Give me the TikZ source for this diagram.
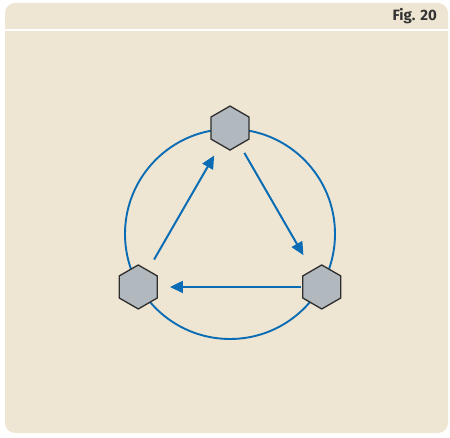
\documentclass[tikz,border=0pt]{standalone}
\usepackage{fontspec}
\setsansfont{Fira Sans}
\usetikzlibrary{shapes.geometric,arrows.meta}
\definecolor{figpanel}{HTML}{EEE6D2}
\definecolor{figblue}{HTML}{0A6CB4}
\definecolor{hexgrey}{HTML}{B1B9BF}
\definecolor{hexline}{HTML}{2E2E2E}
\definecolor{figtext}{HTML}{333333}

\tikzset{
  hexnode/.style={regular polygon, regular polygon sides=6, shape border rotate=30,
    minimum size=44pt, inner sep=0pt, fill=hexgrey, draw=hexline, line width=1.3pt},
  flow/.style={figblue, line width=2pt, -{Triangle[length=13pt,width=12pt]}}
}

\begin{document}
\begin{tikzpicture}[x=1pt,y=1pt]
  \useasboundingbox (0,0) rectangle (450,437);
  % panel and header band
  \fill[figpanel, rounded corners=10pt] (5,4) rectangle (448,434);
  \draw[white, line width=2pt] (5,407) -- (448,407);
  \node[anchor=base east, font=\sffamily\bfseries\fontsize{15}{17}\selectfont, text=figtext,
    inner sep=0pt] (figlabel) at (437,416) {Fig. 20};

  % ring
  \node[circle, draw=figblue, line width=1.9pt, minimum size=210pt, inner sep=0pt] (ring) at (230,203) {};

  % nodes
  \node[hexnode] (top) at (ring.90) {};
  \node[hexnode] (left) at (ring.210) {};
  \node[hexnode] (right) at (ring.330) {};

  % arrows
  \draw[flow, shorten <=9pt, shorten >=17pt] (top) -- (right);
  \draw[flow, shorten <=1pt, shorten >=12pt] (right) -- (left);
  \draw[flow, shorten <=12pt, shorten >=12pt] (left) -- (top);
\end{tikzpicture}
\end{document}
